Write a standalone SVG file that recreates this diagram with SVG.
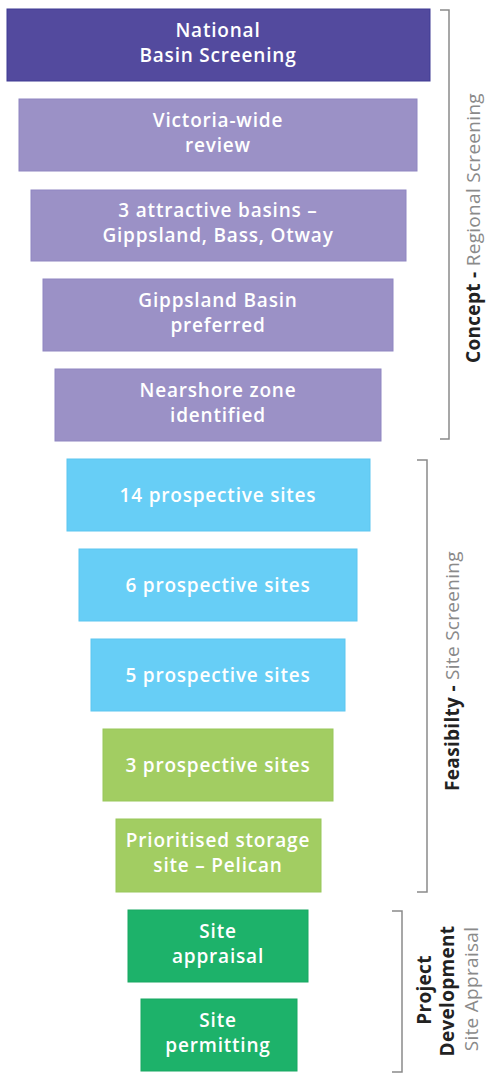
<svg xmlns="http://www.w3.org/2000/svg" width="500" height="1083" viewBox="0 0 500 1083">
<style>
.t{font-family:"Open Sans","Liberation Sans",sans-serif;font-weight:600;font-size:19px;letter-spacing:0.8px;fill:#fff;text-anchor:middle}
.b{fill:none;stroke:#8a8a8a;stroke-width:1.5}
.lb{font-family:"Open Sans","Liberation Sans",sans-serif;font-weight:700;font-size:19px;letter-spacing:0.3px;fill:#222}
.lr{font-family:"Open Sans","Liberation Sans",sans-serif;font-weight:400;font-size:19px;letter-spacing:0.3px;fill:#8a8a8a}
.p1{fill:#534a9e;stroke:#3f3a94;stroke-width:1}
.p2{fill:#9b91c6;stroke:#8f86c2;stroke-width:1}
.c{fill:#67cef6;stroke:#5cc6f0;stroke-width:1}
.g1{fill:#a2cd62;stroke:#98c75a;stroke-width:1}
.g2{fill:#1db26a;stroke:#19a862;stroke-width:1}
</style>
<rect width="500" height="1083" fill="#fff"/>
<g id="n1"><rect class="p1" x="7" y="9" width="423" height="72"/><text class="t" x="218" y="37">National</text><text class="t" x="218" y="62">Basin Screening</text></g>
<g id="n2"><rect class="p2" x="19" y="99" width="398" height="72"/><text class="t" x="218" y="127">Victoria-wide</text><text class="t" x="218" y="152">review</text></g>
<g id="n3"><rect class="p2" x="31" y="190" width="375" height="71"/><text class="t" x="218" y="217">3 attractive basins –</text><text class="t" x="218" y="242">Gippsland, Bass, Otway</text></g>
<g id="n4"><rect class="p2" x="43" y="279" width="350" height="72"/><text class="t" x="218" y="307">Gippsland Basin</text><text class="t" x="218" y="332">preferred</text></g>
<g id="n5"><rect class="p2" x="55" y="369" width="326" height="72"/><text class="t" x="218" y="397">Nearshore zone</text><text class="t" x="218" y="422">identified</text></g>
<g id="n6"><rect class="c" x="67" y="459" width="303" height="72"/><text class="t" x="218" y="502">14 prospective sites</text></g>
<g id="n7"><rect class="c" x="79" y="549" width="278" height="72"/><text class="t" x="218" y="592">6 prospective sites</text></g>
<g id="n8"><rect class="c" x="91" y="639" width="254" height="72"/><text class="t" x="218" y="682">5 prospective sites</text></g>
<g id="n9"><rect class="g1" x="103" y="729" width="230" height="72"/><text class="t" x="218" y="772">3 prospective sites</text></g>
<g id="n10"><rect class="g1" x="116" y="819" width="205" height="73"/><text class="t" x="218" y="847">Prioritised storage</text><text class="t" x="218" y="872">site – Pelican</text></g>
<g id="n11"><rect class="g2" x="128" y="910" width="180" height="72"/><text class="t" x="218" y="938">Site</text><text class="t" x="218" y="963">appraisal</text></g>
<g id="n12"><rect class="g2" x="141" y="999" width="156" height="72"/><text class="t" x="218" y="1027">Site</text><text class="t" x="218" y="1052">permitting</text></g>
<g id="brackets">
<path class="b" d="M440 10 H449 V439 H440"/>
<path class="b" d="M417 460 H427 V892 H417"/>
<path class="b" d="M392 911 H402 V1072 H392"/>
</g>
<g id="labels">
<text transform="translate(480 228) rotate(-90)" text-anchor="middle"><tspan class="lb">Concept - </tspan><tspan class="lr">Regional Screening</tspan></text>
<text transform="translate(459 671) rotate(-90)" text-anchor="middle"><tspan class="lb">Feasibilty - </tspan><tspan class="lr">Site Screening</tspan></text>
<text class="lb" transform="translate(431 990) rotate(-90)" text-anchor="middle">Project</text>
<text class="lb" transform="translate(454 991) rotate(-90)" text-anchor="middle">Development</text>
<text class="lr" transform="translate(478 989) rotate(-90)" text-anchor="middle">Site Appraisal</text>
</g>
</svg>
